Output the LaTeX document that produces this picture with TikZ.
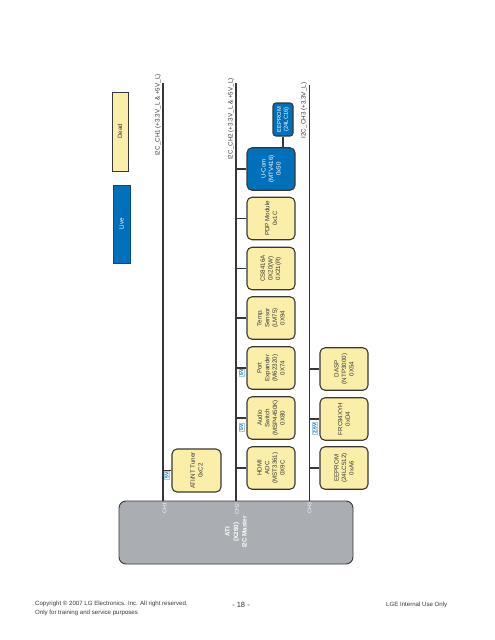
\documentclass[tikz,border=0pt]{standalone}
\usepackage{fontspec}
\setmainfont{Liberation Sans}
\definecolor{devyellow}{RGB}{250,238,168}
\definecolor{devblue}{RGB}{0,112,186}
\definecolor{mastergray}{RGB}{170,173,178}
\definecolor{edge}{RGB}{55,55,55}
\begin{document}
\begin{tikzpicture}[x=1pt,y=-1pt,
  dev/.style={draw=edge, line width=1.1pt, rounded corners=5pt, rotate=90,
    minimum width=42.5pt, minimum height=48pt, inner sep=1pt, align=center,
    font=\fontsize{6.2}{7.6}\selectfont, fill=devyellow, text=edge},
  livedev/.style={dev, fill=devblue, text=white},
  bus/.style={draw=edge, line width=1.2pt},
  volt/.style={rotate=90, font=\fontsize{5}{5}\bfseries\selectfont, text=devblue,
    fill=white, draw=devblue!35, line width=0.4pt, inner sep=0.7pt},
  lbl/.style={rotate=90, font=\fontsize{6.3}{7}\selectfont, text=edge, inner sep=0pt},
  chlbl/.style={rotate=90, font=\fontsize{5.3}{6}\selectfont, text=white, inner sep=0pt},
  foot/.style={font=\fontsize{6.1}{8.5}\selectfont, text=edge, inner sep=0pt, align=left}
]
\useasboundingbox (0,0) rectangle (495,640);

% legend
\node[draw=edge, line width=0.9pt, fill=devyellow, rotate=90, minimum width=79pt,
  minimum height=16pt, inner sep=0pt, font=\fontsize{6.2}{7}\selectfont, text=edge]
  (dead) at (120,131.5) {Dead};
\node[draw=devblue!70!black, line width=0.9pt, fill=devblue, rotate=90, minimum width=78pt,
  minimum height=17pt, inner sep=0pt, font=\fontsize{6.2}{7}\selectfont, text=white]
  (live) at (121.5,224) {Live};

% master
\node[draw=edge, line width=0.9pt, fill=mastergray, rounded corners=7pt,
  minimum width=234pt, minimum height=63pt, inner sep=0pt] (m) at (236,532.5) {};
\node[rotate=90, align=center, text=white, font=\fontsize{6.3}{8.6}\bfseries\selectfont, inner sep=0pt]
  (mtext) at (236,532) {ATI\\(X260)\\I2C Master};
\node[chlbl] (ch1l) at (164.5,508) {CH1};
\node[chlbl] (ch2l) at (237,509) {CH2};
\node[chlbl] (ch3l) at (309.5,508) {CH3};

% bus lines
\coordinate (c1t) at (163,83);
\coordinate (c2t) at (236,83);
\coordinate (c3t) at (309.5,85);
\draw[bus] (c1t) -- (c1t |- m.north);
\draw[bus] (c2t) -- (c2t |- m.north);
\draw[bus] (c3t) -- (c3t |- m.north);
\node[lbl] (l1) at (158,115) {I2C\_CH1 (+3.3V\_L \& +5V\_L)};
\node[lbl] (l2) at (231,119) {I2C\_CH2 (+3.3V\_L \& +5V\_L)};
\node[lbl] (l3) at (304,110.5) {I2C\_CH3 (+3.3V\_L)};

% CH1 device
\node[dev, minimum height=49pt, minimum width=43pt] (tuner) at (196.5,470.5) {ATI/NT Tuner\\0xC2};

% CH2 devices
\node[livedev] (ucom) at (271,169) {U-Com\\(MTV416)\\0x50};
\node[dev] (pdp) at (271,218.5) {PDP Module\\0x1C};
\node[dev] (cs) at (271,268.5) {CS8416A\\0X20(W)\\0X21(R)};
\node[dev] (temp) at (271,318) {Temp.\\Sensor\\(LM75)\\0X94};
\node[dev] (port) at (271,368) {Port\\Expander\\(M62320)\\0X74};
\node[dev] (audio) at (271,418) {Audio\\Switch\\(MSP4450K)\\0X80};
\node[dev] (hdmi) at (271,468) {HDMI\\ADC\\(MST3361)\\0X9C};
\node[livedev, rounded corners=3pt, minimum width=33pt, minimum height=20pt,
  font=\fontsize{5.8}{6.8}\selectfont] (ee16) at (283,119.5) {EEPROM\\(24LC16)};

% CH3 devices
\node[dev] (dasp) at (344,369) {DASP\\(NTP3000)\\0X54};
\node[dev] (frc) at (344,419) {FRC94XYH\\0xD4};
\node[dev] (ee512) at (344,468) {EEPROM\\(24LC512)\\0xA6};

% connectors
\draw[bus] (tuner.north) -- (tuner.north -| c1t);
\foreach \n in {ucom,pdp,cs,temp,port,audio,hdmi}
  \draw[bus] (\n.north) -- (\n.north -| c2t);
\foreach \n in {dasp,frc,ee512}
  \draw[bus] (\n.north) -- (\n.north -| c3t);
\draw[bus] (ee16.west) -- (ee16.west |- ucom.east);

% voltage tags
\node[volt] (v1) at (167,475) {5V};
\node[volt] (v2) at (241.5,372.5) {5V};
\node[volt] (v3) at (241.5,427) {5V};
\node[volt] (v4) at (315,428.5) {2.5V};

% footer
\node[foot, anchor=north west] (copy) at (35,601) {Copyright \textcopyright{} 2007 LG Electronics. Inc. All right reserved.\\Only for training and service purposes};
\node[font=\fontsize{7.5}{8}\selectfont, text=edge, inner sep=0pt] (page) at (241,605) {- 18 -};
\node[foot, anchor=west] (lge) at (386,605) {LGE Internal Use Only};
\end{tikzpicture}
\end{document}
